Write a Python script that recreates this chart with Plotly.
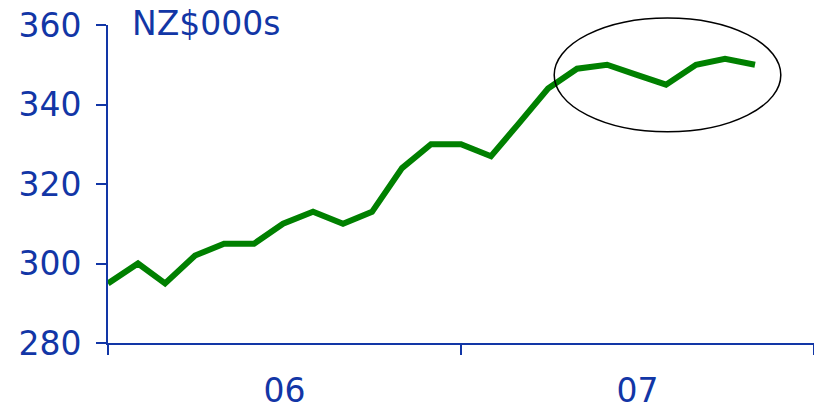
import plotly.graph_objects as go

months = ['2006-01-01', '2006-02-01', '2006-03-01', '2006-04-01', '2006-05-01', '2006-06-01',
          '2006-07-01', '2006-08-01', '2006-09-01', '2006-10-01', '2006-11-01', '2006-12-01',
          '2007-01-01', '2007-02-01', '2007-03-01', '2007-04-01', '2007-05-01', '2007-06-01',
          '2007-07-01', '2007-08-01', '2007-09-01', '2007-10-01', '2007-11-01']
house_price = [295, 300, 295, 302, 305, 305, 310, 313, 310, 313, 324, 330,
               330, 327, 335, 344, 349, 350, 347.5, 345, 350, 351.5, 350]

blue = '#1236a6'
font_family = 'DejaVu Sans, Verdana, sans-serif'

fig = go.Figure()
fig.add_trace(go.Scatter(x=months, y=house_price, mode='lines',
                         line=dict(color='#008000', width=6), showlegend=False))

# page is drawn with an 8px body margin, so the figure is sized to fit inside it
fig.update_layout(
    width=806, height=401,
    margin=dict(l=100, r=0, t=17, b=66),
    plot_bgcolor='white', paper_bgcolor='white',
    font=dict(family=font_family, color=blue, size=33),
    xaxis=dict(type='date', range=['2006-01-01', '2008-01-01'], dtick='M12', tick0='2006-01-01',
               tickformat='%y', ticklabelmode='period', showgrid=False, zeroline=False,
               showline=True, linecolor=blue, linewidth=2, ticks='outside', ticklen=10,
               tickwidth=2, tickcolor=blue, ticklabelstandoff=7, automargin=False,
               ticklabeloverflow='allow'),
    yaxis=dict(range=[280, 360], tickvals=[280, 300, 320, 340, 360], showgrid=False, zeroline=False,
               showline=True, linecolor=blue, linewidth=2, ticks='outside', ticklen=10,
               tickwidth=2, tickcolor=blue, ticklabelstandoff=8, automargin=False,
               ticklabeloverflow='allow'),
    annotations=[dict(text='NZ$000s', xref='paper', yref='paper', x=0.031, y=1.006,
                      xanchor='left', yanchor='middle', showarrow=False,
                      font=dict(size=33, color=blue, family=font_family))],
    shapes=[dict(type='circle', xref='paper', yref='paper', x0=0.632, x1=0.953, y0=0.664, y1=1.022,
                 line=dict(color='black', width=1.5))],
)

fig.write_html('out.html')
